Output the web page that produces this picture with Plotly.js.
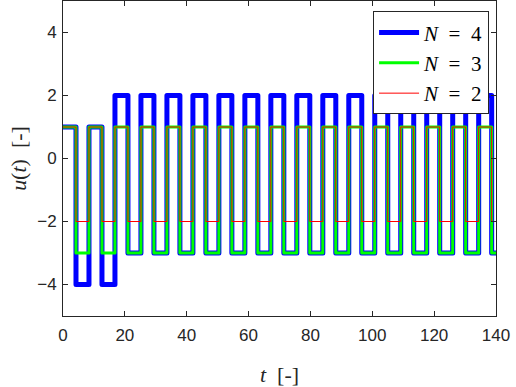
<!DOCTYPE html>
<html>
<head>
<meta charset="utf-8">
<script src="https://cdn.plot.ly/plotly-3.0.1.min.js"></script>
<style>
  body { margin: 0; background: #fff; }
  .scatterlayer .js-line { stroke-linejoin: round; }
</style>
</head>
<body>
<div id="plot" style="width:516px;height:387px"></div>
<script>
// switching instants (stairs), last entry closes the final step
var tSwitch = [0, 4.2, 8.4, 12.6, 16.8, 21, 25.2, 29.4, 33.6, 37.8, 42, 46.2, 50.4, 54.6,
  58.8, 63, 67.2, 71.4, 75.6, 79.8, 84, 88.2, 92.4, 96.6, 100.8, 105, 109.2, 113.4,
  117.6, 121.8, 126, 130.2, 134.4, 138.6, 140];

// input u(t) for each horizon N
var uN4 = [1, -4, 1, -4, 2, -3, 2, -3, 2, -3, 2, -3, 2, -3, 2, -3, 2, -3, 2, -3, 2, -3,
  2, -3, 2, -3, 2, -3, 2, -3, 2, -3, 2, -3, -3];
var uN3 = [1, -3, 1, -3, 1, -3, 1, -3, 1, -3, 1, -3, 1, -3, 1, -3, 1, -3, 1, -3, 1, -3,
  1, -3, 1, -3, 1, -3, 1, -3, 1, -3, 1, -3, -3];
var uN2 = [1, -2, 1, -2, 1, -2, 1, -2, 1, -2, 1, -2, 1, -2, 1, -2, 1, -2, 1, -2, 1, -2,
  1, -2, 1, -2, 1, -2, 1, -2, 1, -2, 1, -2, -2];

var xTicks = [0, 20, 40, 60, 80, 100, 120, 140];
var yTicks = [-4, -2, 0, 2, 4];

var axisCol = "#262626";
var sp = "\u00a0\u00a0";

var traces = [
  { x: tSwitch, y: uN4, name: "<i>N</i>" + sp + "=" + sp + "4", mode: "lines",
    line: { shape: "hv", color: "#0000ff", width: 5 } },
  { x: tSwitch, y: uN3, name: "<i>N</i>" + sp + "=" + sp + "3", mode: "lines",
    line: { shape: "hv", color: "#00ff00", width: 3 } },
  { x: tSwitch, y: uN2, name: "<i>N</i>" + sp + "=" + sp + "2", mode: "lines",
    line: { shape: "hv", color: "#ff0000", width: 1 } }
];

var layout = {
  width: 516, height: 387,
  margin: { l: 63, r: 20, t: 1, b: 71 },
  paper_bgcolor: "#fff", plot_bgcolor: "#fff",
  showlegend: true,
  legend: {
    x: 0.984, y: 0.967, xanchor: "right", yanchor: "top",
    bgcolor: "#fff", bordercolor: axisCol, borderwidth: 1,
    font: { family: "Liberation Serif", size: 21, color: "#000" },
    tracegroupgap: 0, itemwidth: 40
  },
  xaxis: {
    range: [0, 140], tickvals: xTicks, ticks: "inside", ticklen: 5,
    showline: true, mirror: "ticks", linecolor: axisCol, linewidth: 1, tickcolor: axisCol,
    showgrid: false, zeroline: false, ticklabelstandoff: 4,
    tickfont: { family: "Liberation Sans", size: 17, color: axisCol },
    title: { text: "<i>t</i>  [-]", font: { family: "Liberation Serif", size: 22, color: axisCol }, standoff: 26 }
  },
  yaxis: {
    range: [-5, 5], tickvals: yTicks, ticks: "inside", ticklen: 5,
    showline: true, mirror: "ticks", linecolor: axisCol, linewidth: 1, tickcolor: axisCol,
    showgrid: false, zeroline: false, ticklabelstandoff: 2,
    tickfont: { family: "Liberation Sans", size: 17, color: axisCol },
    title: { text: "<i>u</i>(<i>t</i>)  [-]", font: { family: "Liberation Serif", size: 22, color: axisCol }, standoff: 4 }
  }
};

Plotly.newPlot("plot", traces, layout, { displayModeBar: false, staticPlot: true });
</script>
</body>
</html>
